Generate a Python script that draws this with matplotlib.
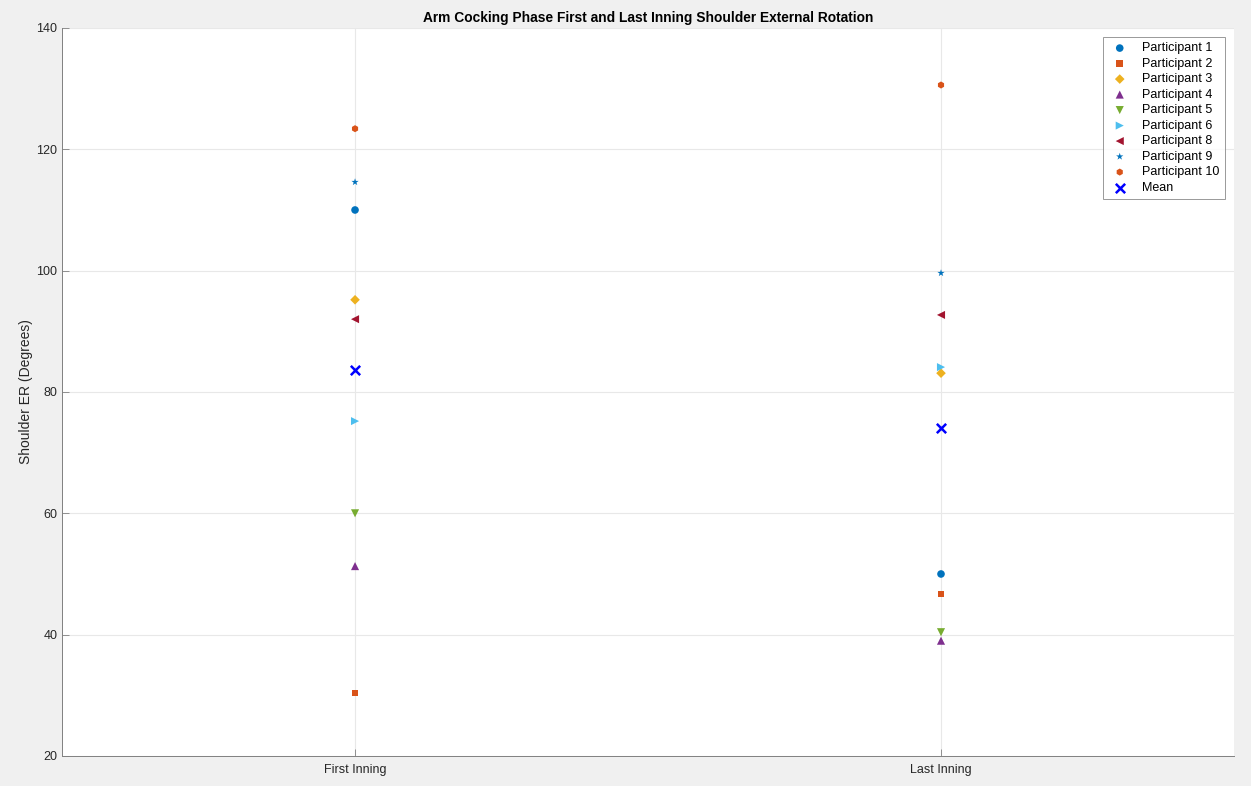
import matplotlib
matplotlib.use("Agg")
from matplotlib import pyplot as plt

plt.rcParams['font.family'] = ['Liberation Sans', 'DejaVu Sans']

# Datos (grados)
innings = ['First Inning', 'Last Inning']
participants = ['Participant 1', 'Participant 2', 'Participant 3', 'Participant 4',
                'Participant 5', 'Participant 6', 'Participant 8', 'Participant 9',
                'Participant 10']
first_er = [110.0, 30.4, 95.2, 51.3, 60.0, 75.2, 92.0, 114.6, 123.4]
last_er = [50.0, 46.7, 83.1, 39.0, 40.4, 84.1, 92.7, 99.6, 130.6]
mean_er = [83.6, 74.1]

colors = ['#0072BD', '#D95319', '#EDB120', '#7E2F8E', '#77AC30', '#4DBEEE',
          '#A2142F', '#0072BD', '#D95319']
markers = ['o', 's', 'D', '^', 'v', '>', '<', '*', 'h']
sizes = [30, 22, 24, 34, 34, 34, 34, 30, 26]

fig = plt.figure(figsize=(12.51, 7.86), dpi=100, facecolor='#f0f0f0')
ax = fig.add_axes([0.0496, 0.0382, 0.9368, 0.9262])

xpos = [1, 2]
for i, name in enumerate(participants):
    ax.scatter(xpos, [first_er[i], last_er[i]], marker=markers[i], s=sizes[i],
               color=colors[i], edgecolors='none', label=name, zorder=3)
ax.scatter(xpos, mean_er, marker='x', s=45, color='#0000ff', linewidths=1.8,
           label='Mean', zorder=3)

ax.set_xlim(0.5, 2.5)
ax.set_ylim(20, 140)
ax.set_xticks(xpos)
ax.set_xticklabels(innings)
ax.set_yticks(range(20, 141, 20))
ax.tick_params(direction='in', labelsize=9, colors='#808080', labelcolor='#262626',
               length=5, width=0.6)
ax.tick_params(axis='x', pad=6)
ax.grid(True, color='#e8e8e8', linewidth=0.8)
ax.set_axisbelow(True)
for s in ['top', 'right']:
    ax.spines[s].set_visible(False)
for s in ['left', 'bottom']:
    ax.spines[s].set_color('#808080')
    ax.spines[s].set_linewidth(0.7)

ax.set_ylabel('Shoulder ER (Degrees)', fontsize=10, color='#262626', labelpad=2)
ax.set_title('Arm Cocking Phase First and Last Inning Shoulder External Rotation',
             fontsize=9.9, fontweight='bold', color='#000000', pad=4)
leg = ax.legend(loc='upper right', fontsize=9, frameon=True, fancybox=False,
                edgecolor='#808080', handletextpad=0.9, labelspacing=0.28,
                borderpad=0.45, borderaxespad=0.7, scatterpoints=1, handlelength=1.8)
leg.get_frame().set_linewidth(0.7)

fig.savefig('out.png', dpi=100, facecolor=fig.get_facecolor())
